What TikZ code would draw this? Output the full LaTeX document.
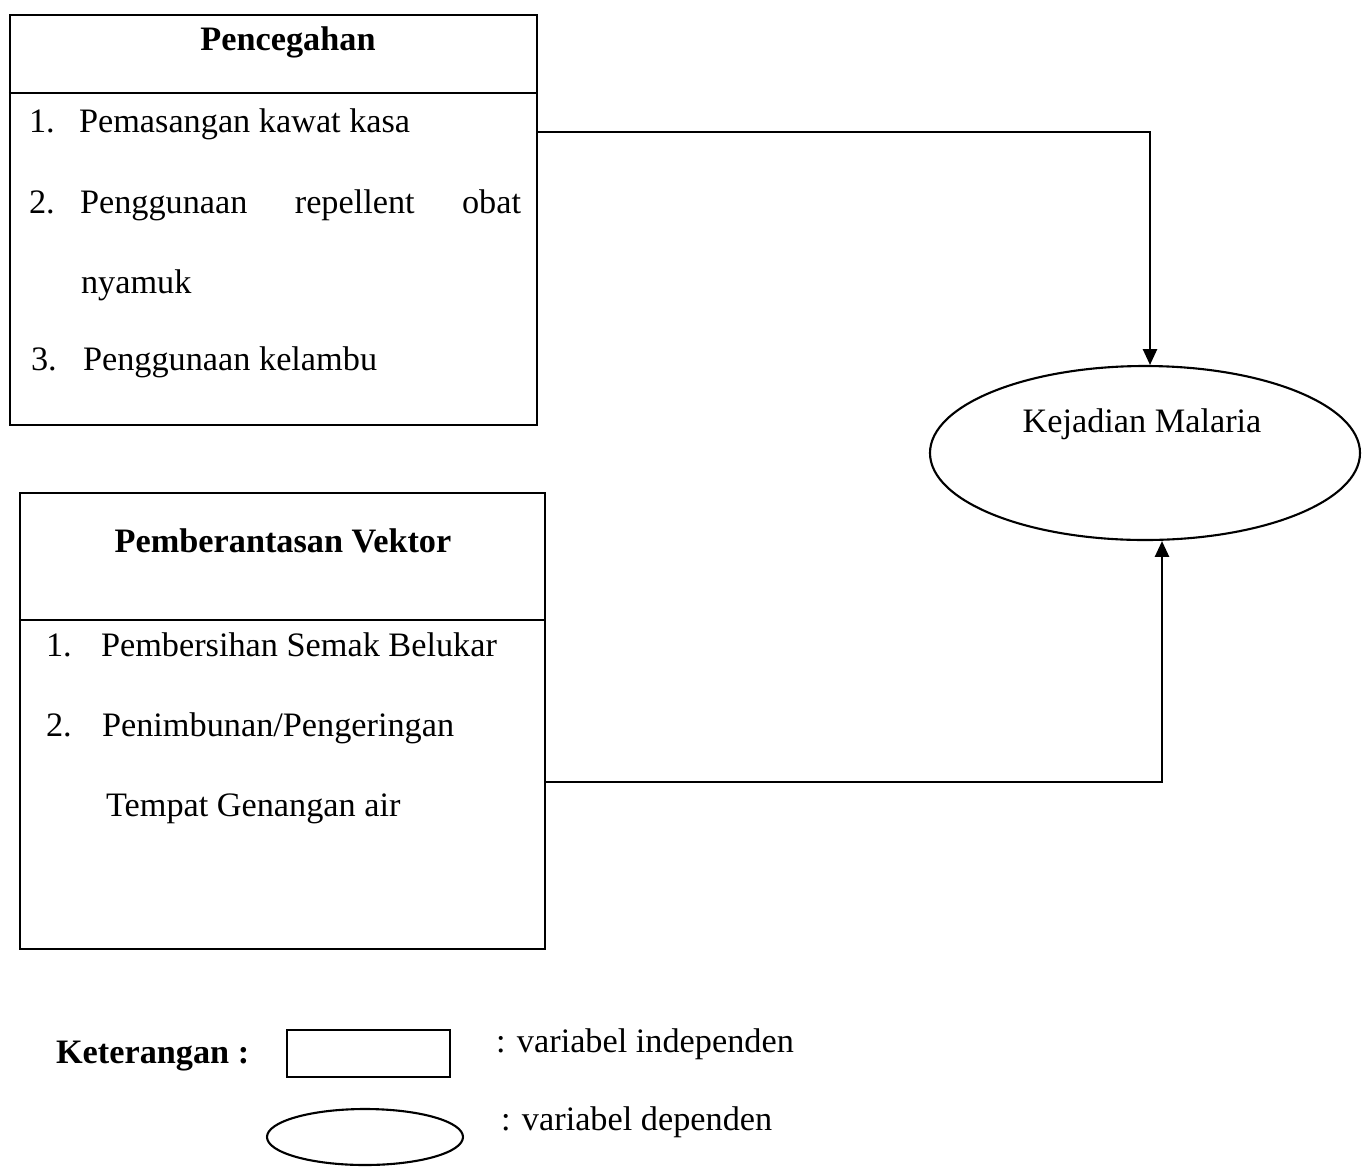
\documentclass[tikz,border=0pt]{standalone}
\usepackage{fontspec}
\setmainfont{Liberation Serif}
\usetikzlibrary{arrows.meta,positioning,shapes.geometric}

\begin{document}
\begin{tikzpicture}[->, >={Triangle[length=9pt,width=8pt]}, line width=1.2pt,
    font=\fontsize{19.5}{23}\selectfont,
    indep/.style={draw, rectangle, inner sep=0pt, -},
    dep/.style={draw, ellipse, inner sep=0pt, -},
    item/.style={anchor=base west, inner sep=0pt},
    head/.style={anchor=base, inner sep=0pt, font=\fontsize{19.5}{23}\selectfont\bfseries}]
    \useasboundingbox (0,0) rectangle (27.24,-23.34);

    % Pencegahan
    \node[indep, minimum width=10.54cm, minimum height=8.2cm] (cegah) at (5.47,-4.4) {};
    \draw[-] (cegah.west |- 0,-1.86) -- (cegah.east |- 0,-1.86);
    \node[head] (cegahT) at (5.76,-1.0) {Pencegahan};
    \node[item] (c1n) at (0.56,-2.64) {1.};
    \node[item] (c1) at (1.56,-2.64) {Pemasangan kawat kasa};
    \node[item] (c2n) at (0.56,-4.26) {2.};
    \node[item] (c2) at (1.58,-4.26) {\makebox[8.82cm][s]{Penggunaan repellent obat}};
    \node[item] (c2b) at (1.6,-5.86) {nyamuk};
    \node[item] (c3n) at (0.6,-7.4) {3.};
    \node[item] (c3) at (1.64,-7.4) {Penggunaan kelambu};

    % Pemberantasan Vektor
    \node[indep, minimum width=10.5cm, minimum height=9.12cm] (vektor) at (5.65,-14.42) {};
    \draw[-] (vektor.west |- 0,-12.4) -- (vektor.east |- 0,-12.4);
    \node[head] (vektorT) at (5.66,-11.04) {Pemberantasan Vektor};
    \node[item] (v1n) at (0.9,-13.12) {1.};
    \node[item] (v1) at (2.0,-13.12) {Pembersihan Semak Belukar};
    \node[item] (v2n) at (0.9,-14.72) {2.};
    \node[item] (v2) at (2.02,-14.72) {Penimbunan/Pengeringan};
    \node[item] (v2b) at (2.1,-16.32) {Tempat Genangan air};
    \coordinate (vout) at (vektor.east |- 0,-15.64);

    % Kejadian Malaria
    \node[dep, minimum width=8.6cm, minimum height=3.48cm] (malaria) at (22.9,-9.06) {};
    \node[anchor=base, inner sep=0pt] (malariaT) at (22.84,-8.64) {Kejadian Malaria};

    \draw (cegah.east |- c1.base) -| ([xshift=0.1cm]malaria.north);
    \draw (vout) -| ([xshift=0.34cm]malaria.south);

    % Keterangan
    \node[indep, minimum width=3.26cm, minimum height=0.94cm] (lgbox) at (7.37,-21.07) {};
    \node[dep, minimum width=3.92cm, minimum height=1.12cm] (lgell) at (7.3,-22.74) {};
    \node[item] (ket) at (1.1,-21.26) {\textbf{Keterangan :}};
    \node[item] (lgboxT) at (9.9,-21.04) {: variabel independen};
    \node[item] (lgellT) at (10.0,-22.6) {: variabel dependen};
\end{tikzpicture}
\end{document}
